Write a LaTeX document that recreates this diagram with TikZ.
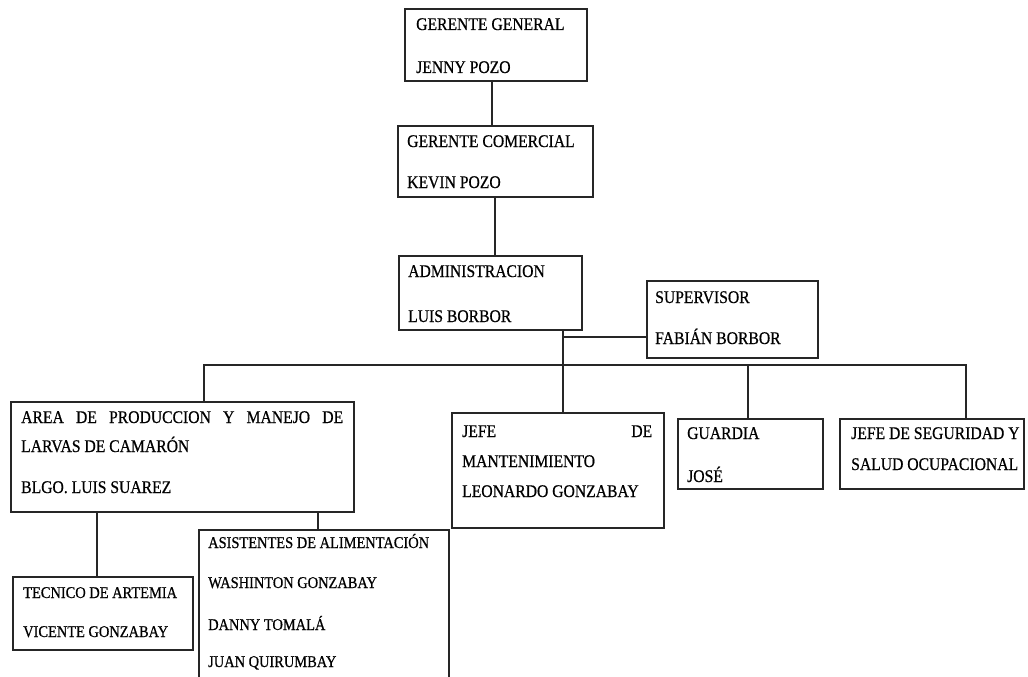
\documentclass[tikz,border=0pt]{standalone}
\usepackage{fontspec}
\setmainfont{Liberation Serif}[FakeStretch=0.88,FakeBold=0.6]
\usetikzlibrary{calc}
\tikzset{
  box/.style={draw=black!85, line width=1.6pt, rectangle, inner sep=0pt, anchor=north west},
  txt/.style={anchor=base west, inner sep=0pt, font=\fontsize{17.8}{20}\selectfont, text=black},
  stxt/.style={anchor=base west, inner sep=0pt, font=\fontsize{16.4}{19}\selectfont, text=black},
  conn/.style={draw=black!85, line width=1.3pt}
}
\begin{document}
\begin{tikzpicture}[x=1pt,y=-1pt]
\useasboundingbox (0,0) rectangle (1028,677);
\clip (0,0) rectangle (1028,677);
% boxes
\node[box, minimum width=182pt, minimum height=72pt] (gg) at (404,8) {};
\node[box, minimum width=195pt, minimum height=71pt] (gc) at (397,125) {};
\node[box, minimum width=183pt, minimum height=74pt] (adm) at (398,255) {};
\node[box, minimum width=171pt, minimum height=77pt] (sup) at (646,280) {};
\node[box, minimum width=343pt, minimum height=110pt] (area) at (10,401) {};
\node[box, minimum width=180pt, minimum height=73pt] (tec) at (12,576) {};
\node[box, minimum width=250pt, minimum height=170pt] (asis) at (198,529) {};
\node[box, minimum width=212pt, minimum height=115pt] (jm) at (451,412) {};
\node[box, minimum width=145pt, minimum height=70pt] (gua) at (677,418) {};
\node[box, minimum width=184pt, minimum height=70pt] (seg) at (839,418) {};
% texts
\node[txt] (gg1) at (416,30) {GERENTE GENERAL};
\node[txt] (gg2) at (416,73) {JENNY POZO};
\node[txt] (gc1) at (407,147) {GERENTE COMERCIAL};
\node[txt] (gc2) at (407,188) {KEVIN POZO};
\node[txt] (adm1) at (408,277) {ADMINISTRACION};
\node[txt] (adm2) at (408,322) {LUIS BORBOR};
\node[txt] (sup1) at (655,303) {SUPERVISOR};
\node[txt] (sup2) at (655,344) {FABIÁN BORBOR};
\node[txt] (area1) at (21,423) {\makebox[322pt][s]{AREA DE PRODUCCION Y MANEJO DE}};
\node[txt] (area2) at (21,452) {LARVAS DE CAMARÓN};
\node[txt] (area3) at (21,493) {BLGO. LUIS SUAREZ};
\node[stxt] (tec1) at (23,598) {TECNICO DE ARTEMIA};
\node[stxt] (tec2) at (23,637) {VICENTE GONZABAY};
\node[stxt] (asis1) at (208,548) {ASISTENTES DE ALIMENTACIÓN};
\node[stxt] (asis2) at (208,588) {WASHINTON GONZABAY};
\node[stxt] (asis3) at (208,630) {DANNY TOMALÁ};
\node[stxt] (asis4) at (208,667) {JUAN QUIRUMBAY};
\node[txt] (jm1) at (462,437) {\makebox[190pt][l]{JEFE\hfill DE}};
\node[txt] (jm2) at (462,467) {MANTENIMIENTO};
\node[txt] (jm3) at (462,497) {LEONARDO GONZABAY};
\node[txt] (gua1) at (687,439) {GUARDIA};
\node[txt] (gua2) at (687,482) {JOSÉ};
\node[txt] (seg1) at (851,439) {JEFE DE SEGURIDAD Y};
\node[txt] (seg2) at (851,470) {SALUD OCUPACIONAL};
% connector points
\coordinate (ggb) at (492,80);
\coordinate (gct) at (492,125);
\coordinate (gcb) at (495,196);
\coordinate (admt) at (495,255);
\coordinate (admb) at (563,329);
\coordinate (js) at (563,337);
\coordinate (busL) at (204,365);
\coordinate (busR) at (966,365);
\coordinate (areat) at (204,401);
\coordinate (jmt) at (563,412);
\coordinate (guat) at (748,418);
\coordinate (segt) at (966,418);
\coordinate (areab1) at (97,511);
\coordinate (tect) at (97,576);
\coordinate (areab2) at (318,511);
\coordinate (asist) at (318,529);
% connectors
\draw[conn] (ggb) -- (gct);
\draw[conn] (gcb) -- (admt);
\draw[conn] (admb) -- (jmt);
\draw[conn] (js) -- (js -| sup.west);
\draw[conn] (areat) -- (busL) -- (busR) -- (segt);
\draw[conn] (guat) -- (guat |- busL);
\draw[conn] (areab1) -- (tect);
\draw[conn] (areab2) -- (asist);
\end{tikzpicture}
\end{document}
